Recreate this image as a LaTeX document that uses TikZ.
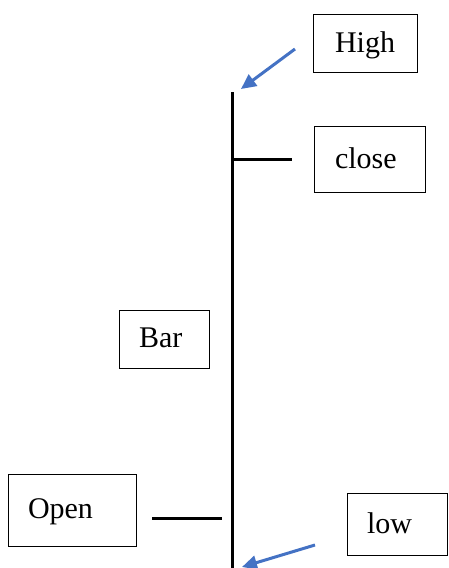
\documentclass[tikz,border=0pt]{standalone}
\usepackage{fontspec}
\setmainfont{Liberation Serif}
\usetikzlibrary{arrows.meta}
\definecolor{arrowblue}{HTML}{4472C4}
\begin{document}
\begin{tikzpicture}[x=1pt,y=-1pt,
  box/.style={draw, line width=1pt, inner sep=0pt, align=left,
    text depth=2pt, font=\fontsize{30}{36}\selectfont},
  barline/.style={line width=3pt},
  bluearrow/.style={draw=arrowblue, line width=3pt, -{Triangle[length=15pt,width=14pt]}}]
\useasboundingbox (0,0) rectangle (449,568);
\node[box, minimum width=104pt, minimum height=58pt, text width=60pt] (high) at (365,43) {High};
\node[box, minimum width=111pt, minimum height=66pt, text width=69pt] (close) at (369.5,159) {close};
\node[box, minimum width=90pt, minimum height=58pt, text width=50pt] (bar) at (164,339) {Bar};
\node[box, minimum width=128pt, minimum height=72pt, text width=88pt] (open) at (72,510) {Open};
\node[box, minimum width=100pt, minimum height=62pt, text width=60pt] (low) at (397,524) {low};
\coordinate (top) at (232,92);
\coordinate (bottom) at (232,570);
\coordinate (closeend) at (292,159);
\coordinate (closejoin) at (232,159);
\coordinate (openstart) at (152,518);
\coordinate (openjoin) at (222,518);
\coordinate (hightail) at (295,49);
\coordinate (hightip) at (241,89);
\coordinate (lowtail) at (315,545);
\coordinate (lowtip) at (242,567);
\draw[barline] (top) -- (bottom);
\draw[barline] (closejoin) -- (closeend);
\draw[barline] (openstart) -- (openjoin);
\draw[bluearrow] (hightail) -- (hightip);
\draw[bluearrow] (lowtail) -- (lowtip);
\end{tikzpicture}
\end{document}
